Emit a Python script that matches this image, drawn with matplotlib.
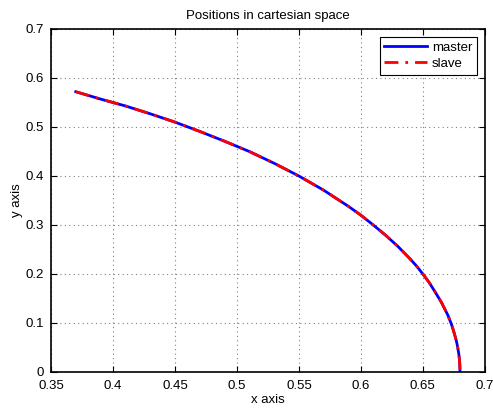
import matplotlib
matplotlib.use("Agg")
import matplotlib.pyplot as plt

plt.rcParams['font.family'] = ['Liberation Sans', 'DejaVu Sans']

# puntos
x_master = [0.37, 0.39, 0.41, 0.43, 0.45, 0.47, 0.49, 0.51, 0.53, 0.55, 0.57, 0.59,
            0.60, 0.61, 0.62, 0.63, 0.64, 0.645, 0.65, 0.655, 0.66, 0.665, 0.67,
            0.673, 0.675, 0.677, 0.678, 0.679, 0.6795, 0.6798, 0.68]
y_master = [0.572, 0.557, 0.543, 0.527, 0.510, 0.491, 0.471, 0.450, 0.426, 0.400, 0.371, 0.338,
            0.320, 0.300, 0.279, 0.256, 0.230, 0.216, 0.200, 0.183, 0.163, 0.142, 0.117,
            0.098, 0.082, 0.064, 0.052, 0.037, 0.026, 0.016, 0.0]
x_slave = x_master
y_slave = y_master

fig = plt.figure(figsize=(4.93, 4.09), dpi=100)
ax = fig.add_axes([0.1034, 0.0905, 0.880, 0.8386])

ax.plot(x_master, y_master, color="blue", lw=2, label="master")
ax.plot(x_slave, y_slave, color="red", lw=2, ls=(0, (5, 2.5, 1, 2.5)), label="slave")

ax.set_xlim(0.35, 0.7)
ax.set_ylim(0, 0.7)
ax.set_xticks([0.35, 0.4, 0.45, 0.5, 0.55, 0.6, 0.65, 0.7])
ax.set_xticklabels(["0.35", "0.4", "0.45", "0.5", "0.55", "0.6", "0.65", "0.7"])
ax.set_yticks([0, 0.1, 0.2, 0.3, 0.4, 0.5, 0.6, 0.7])
ax.set_yticklabels(["0", "0.1", "0.2", "0.3", "0.4", "0.5", "0.6", "0.7"])
ax.tick_params(direction="in", top=True, right=True, labelsize=9.5, length=4, width=0.8)
ax.tick_params(axis="x", pad=6)
ax.tick_params(axis="y", pad=5)
ax.grid(True, ls=(0, (1, 3)), color="gray", lw=0.8)
for s in ax.spines.values():
    s.set_linewidth(1.2)

ax.set_title("Positions in cartesian space", fontsize=9.5, pad=7)
ax.set_xlabel("x axis", fontsize=9.5, labelpad=1)
ax.set_ylabel("y axis", fontsize=9.5, labelpad=2)

leg = ax.legend(loc="upper right", fontsize=9.5, fancybox=False, edgecolor="black",
                framealpha=1, borderaxespad=0.6, handlelength=3.2, handletextpad=0.4,
                labelspacing=0.3, borderpad=0.35)
leg.get_frame().set_linewidth(0.8)

plt.savefig("out.png", dpi=100)
